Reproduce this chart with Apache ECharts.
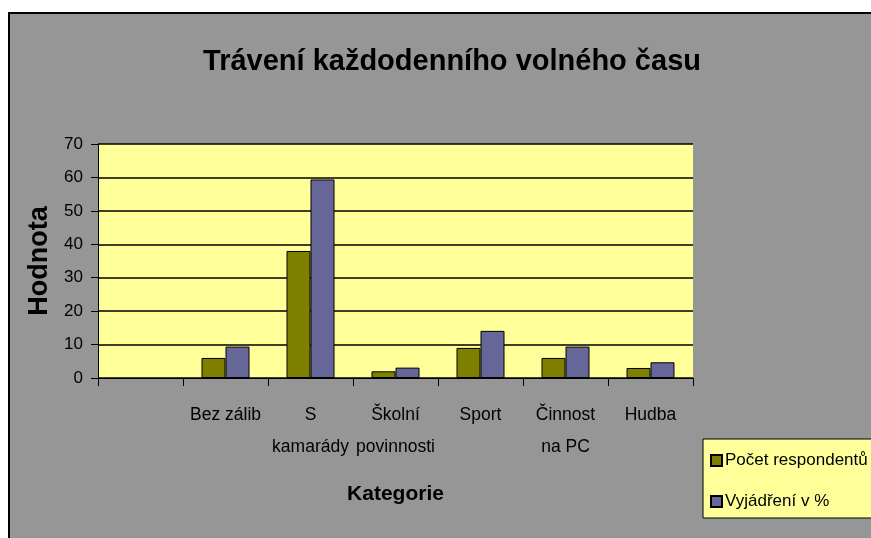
<!DOCTYPE html>
<html>
<head>
<meta charset="utf-8">
<script src="https://cdn.jsdelivr.net/npm/echarts@6/dist/echarts.min.js"></script>
<style>
html,body{margin:0;padding:0;background:#fff;}
#c{width:871px;height:538px;}
</style>
</head>
<body>
<div id="c"></div>
<script>
const categories = ["", "Bez zálib", "S\nkamarády", "Školní\npovinnosti", "Sport", "Činnost\nna PC", "Hudba"];
const respondents = [null, 6, 38, 2, 9, 6, 3];
const percent = [null, 9.4, 59.4, 3.1, 14.1, 9.4, 4.7];
const seriesNames = ["Počet respondentů", "Vyjádření v %"];
const yTicks = { min: 0, max: 70, interval: 10 };

const FONT = "'Liberation Sans', Arial, sans-serif";
const chart = echarts.init(document.getElementById('c'), null, { renderer: 'canvas' });
chart.setOption({
  backgroundColor: 'transparent',
  animation: false,
  graphic: [{
    type: 'rect', z: -10, silent: true,
    shape: { x: 9, y: 13, width: 900, height: 600 },
    style: { fill: '#969696', stroke: '#000', lineWidth: 2 }
  }],
  title: {
    text: 'Trávení každodenního volného času',
    left: 447, top: 42, textAlign: 'center',
    textStyle: { fontFamily: FONT, fontWeight: 'bold', fontSize: 29, color: '#000' }
  },
  grid: {
    left: 98, top: 144, right: 178, bottom: 160,
    show: true, backgroundColor: '#FFFF99', borderWidth: 0
  },
  legend: {
    orient: 'vertical', left: 703, top: 439,
    backgroundColor: '#FFFF99', borderColor: '#000', borderWidth: 1,
    padding: [13, 60, 8, 7], itemGap: 24, itemWidth: 11, itemHeight: 11,
    icon: 'rect',
    textStyle: { fontFamily: FONT, fontSize: 17, color: '#000', padding: [0, 0, 0, -2] },
    data: seriesNames
  },
  xAxis: {
    type: 'category', data: categories,
    name: 'Kategorie', nameLocation: 'middle', nameGap: 106,
    nameTextStyle: { fontFamily: FONT, fontWeight: 'bold', fontSize: 21, color: '#000' },
    axisLine: { lineStyle: { color: '#000', width: 1 } },
    axisTick: { show: true, length: 8, lineStyle: { color: '#000' } },
    axisLabel: { fontFamily: FONT, fontSize: 17.5, lineHeight: 32, color: '#000', margin: 21, interval: 0 },
    splitLine: { show: false }
  },
  yAxis: {
    type: 'value', min: yTicks.min, max: yTicks.max, interval: yTicks.interval,
    name: 'Hodnota', nameLocation: 'middle', nameGap: 45,
    nameTextStyle: { fontFamily: FONT, fontWeight: 'bold', fontSize: 27, color: '#000' },
    axisLine: { show: true, lineStyle: { color: '#000', width: 1 } },
    axisTick: { show: true, length: 7, lineStyle: { color: '#000' } },
    axisLabel: { fontFamily: FONT, fontSize: 17, color: '#000', margin: 15 },
    splitLine: { show: true, lineStyle: { color: '#000', width: 1.5 } }
  },
  series: [
    {
      name: seriesNames[0], type: 'bar', data: respondents,
      barWidth: 24, barGap: '0%',
      itemStyle: { color: '#808000', borderColor: '#000', borderWidth: 1 }
    },
    {
      name: seriesNames[1], type: 'bar', data: percent,
      barWidth: 24, barGap: '0%',
      itemStyle: { color: '#666699', borderColor: '#000', borderWidth: 1 }
    }
  ]
});
</script>
</body>
</html>
